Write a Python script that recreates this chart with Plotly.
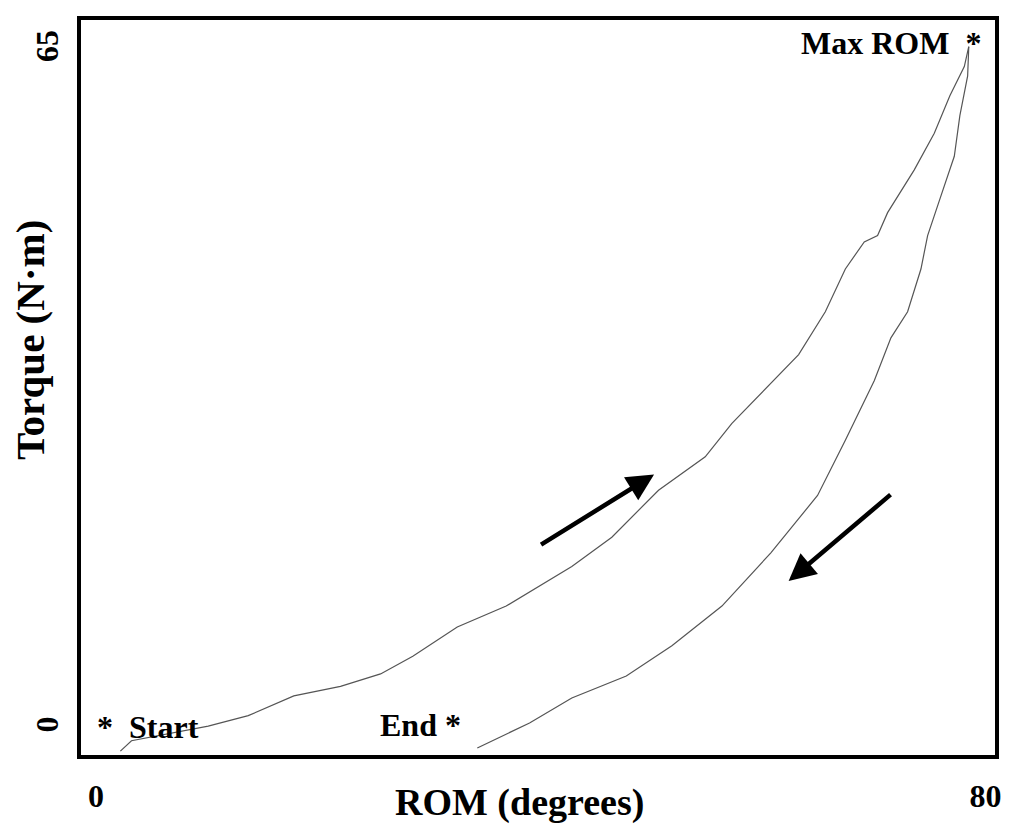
import plotly.graph_objects as go

# Loading phase (Start -> Max ROM): ROM (degrees), Torque (N·m)
load_rom = [2.2, 3.2, 10.1, 13.7, 17.8, 22.0, 25.6, 28.5, 32.5, 36.9, 42.8, 46.4,
            50.6, 54.8, 57.2, 60.5, 63.2, 65.6, 67.4, 69.1, 70.3, 71.2, 72.7, 73.6,
            75.4, 76.8, 78.1, 78.5]
load_torque = [-2.1, -1.1, 0.3, 1.3, 3.2, 4.1, 5.3, 7.0, 9.8, 11.8, 15.6, 18.4,
               22.9, 26.1, 29.3, 32.9, 35.9, 40.0, 44.1, 46.7, 47.3, 49.5, 52.1, 53.6,
               57.1, 60.7, 63.5, 65.4]

# Unloading phase (Max ROM -> End)
unload_rom = [78.5, 78.4, 77.7, 77.2, 75.9, 74.8, 74.2, 73.0, 71.5, 70.0, 67.4, 64.9,
              60.7, 56.3, 51.8, 47.7, 42.8, 39.0, 34.3]
unload_torque = [65.4, 62.6, 58.8, 54.9, 50.8, 47.3, 44.1, 40.0, 37.5, 33.4, 27.7, 22.4,
                 16.9, 11.8, 8.0, 5.1, 3.0, 0.6, -1.8]

x_tickvals = [0, 80]
x_ticktext = ["0", "80"]
y_tickvals = [0, 65]
y_ticktext = ["0", "65"]
x_title = "ROM (degrees)"
y_title = "Torque (N·m)"

FONT = "Liberation Serif"
line_style = dict(color="#555555", width=1.2)

fig = go.Figure()
fig.add_trace(go.Scatter(x=load_rom, y=load_torque, mode="lines", line=line_style,
                         showlegend=False, hoverinfo="skip"))
fig.add_trace(go.Scatter(x=unload_rom, y=unload_torque, mode="lines", line=line_style,
                         showlegend=False, hoverinfo="skip"))

ann_font = dict(family=FONT, size=32, color="black")
annotations = [
    dict(x=-0.1, y=0.2, text="<b>*  Start</b>", xanchor="left", yanchor="middle"),
    dict(x=33.0, y=0.4, text="<b>End *</b>", xanchor="right", yanchor="middle"),
    dict(x=79.8, y=65.8, text="<b>Max ROM  *</b>", xanchor="right", yanchor="middle"),
]
for a in annotations:
    fig.add_annotation(xref="x", yref="y", showarrow=False, font=ann_font, **a)

# axis titles
fig.add_annotation(xref="paper", yref="paper", x=0.480, y=-0.0653,
                   text="<b>" + x_title + "</b>", showarrow=False,
                   font=dict(family=FONT, size=38, color="black"),
                   xanchor="center", yanchor="middle")
fig.add_annotation(xref="paper", yref="paper", x=-0.0558, y=0.5646,
                   text="<b>" + y_title + "</b>", showarrow=False,
                   font=dict(family=FONT, size=41, color="black"),
                   textangle=-90, xanchor="center", yanchor="middle")

# direction arrows
fig.add_annotation(x=50.2, y=24.4, ax=39.9, ay=17.6, xref="x", yref="y",
                   axref="x", ayref="y", showarrow=True, text="",
                   arrowhead=2, arrowsize=1.2, arrowwidth=4.5, arrowcolor="black")
fig.add_annotation(x=62.3, y=14.2, ax=71.6, ay=22.6, xref="x", yref="y",
                   axref="x", ayref="y", showarrow=True, text="",
                   arrowhead=2, arrowsize=1.2, arrowwidth=4.5, arrowcolor="black")

fig.update_layout(
    width=1010, height=824,
    margin=dict(l=81, r=15, t=20, b=69, autoexpand=False),
    paper_bgcolor="white", plot_bgcolor="white",
    font=dict(family=FONT, color="black"),
    xaxis=dict(range=[-1.34, 80.86], tickvals=x_tickvals, ticktext=x_ticktext,
               automargin=False,
               showgrid=False, zeroline=False, showline=True, mirror=True,
               linewidth=4, linecolor="black",
               ticks="outside", ticklen=10, tickcolor="rgba(0,0,0,0)",
               tickfont=dict(family=FONT, size=32, color="black", weight="bold")),
    yaxis=dict(range=[-2.47, 67.96], tickvals=y_tickvals, ticktext=y_ticktext,
               automargin=False,
               showgrid=False, zeroline=False, showline=True, mirror=True,
               linewidth=4, linecolor="black", tickangle=-90,
               ticks="outside", ticklen=6, tickcolor="rgba(0,0,0,0)",
               tickfont=dict(family=FONT, size=32, color="black", weight="bold")),
)

fig.write_html("out.html")
